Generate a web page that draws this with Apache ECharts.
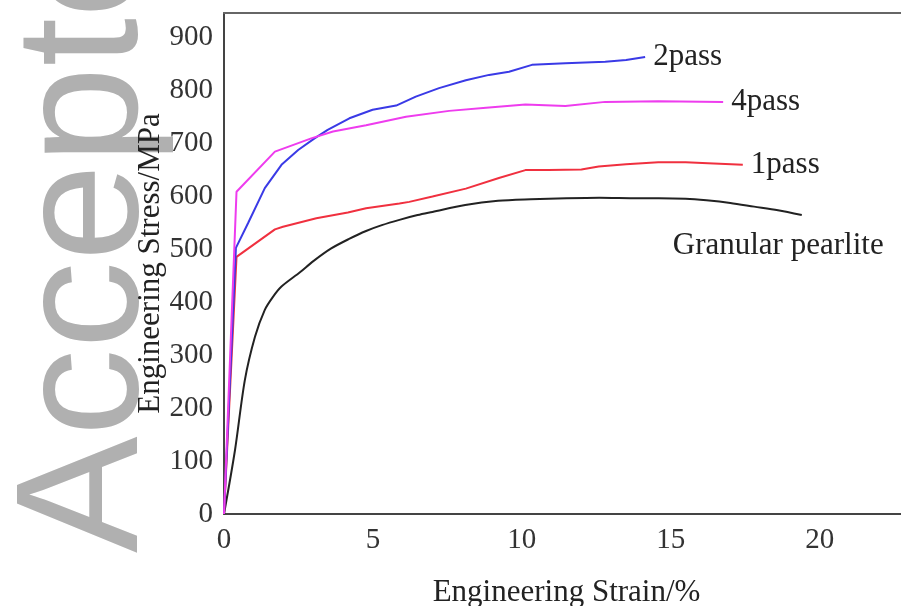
<!DOCTYPE html>
<html>
<head>
<meta charset="utf-8">
<script src="https://cdn.jsdelivr.net/npm/echarts@6/dist/echarts.min.js"></script>
<style>
html,body{margin:0;padding:0;background:#fff;}
#chart{width:901px;height:606px;}
</style>
</head>
<body>
<div id="chart"></div>
<script>
// ---- data ----
var xTicks = [0, 5, 10, 15, 20];
var yTicks = [0, 100, 200, 300, 400, 500, 600, 700, 800, 900];

var seriesNames = ['2pass', '4pass', '1pass', 'Granular pearlite'];

var strain2pass = [0, 0.4, 0.81, 1.37, 1.93, 2.49, 3.04, 3.48, 4.21, 4.99, 5.78, 6.44, 7.22, 8.12, 8.9, 9.57, 10.34, 11.46, 12.8, 13.5, 14.14];
var stress2pass = [0, 503, 550, 616, 660, 688, 710, 726, 748, 764, 772, 789, 805, 820, 830, 836, 849, 852, 855, 858, 864];

var strain4pass = [0, 0.42, 1.71, 2.93, 3.66, 4.77, 6.11, 7.56, 8.8, 10.12, 11.46, 12.8, 14.58, 16.76];
var stress4pass = [0, 609, 685, 710, 723, 735, 751, 762, 768, 774, 771, 779, 780, 779];

var strain1pass = [0, 0.42, 1.71, 1.98, 3.1, 4.16, 4.77, 5.89, 6.22, 7.0, 8.12, 9.23, 10.12, 10.9, 12.0, 12.58, 13.5, 14.58, 15.5, 16.25, 17.42];
var stress1pass = [0, 486, 538, 543, 559, 570, 578, 587, 590, 600, 615, 635, 650, 650, 651, 657, 661, 665, 665, 663, 660];

var strainGP = [0, 0.37, 0.7, 1.04, 1.37, 1.65, 1.93, 2.55, 3.0, 3.6, 4.2, 4.77, 5.3, 5.89, 6.5, 7.0, 8.1, 9.2, 10.3, 11.5, 12.6, 13.9, 14.6, 15.5, 16.2, 17.0, 17.8, 18.6, 19.4];
var stressGP = [0, 121, 253, 335, 386, 411, 430, 457, 478, 502, 520, 535, 546, 556, 565, 571, 584, 592, 595, 597, 598, 597, 597, 596, 593, 588, 581, 574, 565];

function zip(xs, ys) { return xs.map(function (x, i) { return [x, ys[i]]; }); }

var serif = '"Liberation Serif", "Times New Roman", serif';
var chart = echarts.init(document.getElementById('chart'), null, { renderer: 'canvas' });

function lineSeries(name, xs, ys, color, smooth, labelOffset) {
  return {
    name: name,
    type: 'line',
    xAxisIndex: 0,
    data: zip(xs, ys),
    showSymbol: false,
    symbol: 'none',
    smooth: smooth,
    lineStyle: { color: color, width: 2 },
    itemStyle: { color: color },
    z: 3,
    endLabel: {
      show: true,
      formatter: '{a}',
      color: '#222',
      fontFamily: serif,
      fontSize: 31,
      distance: 8,
      offset: labelOffset
    },
    animation: false
  };
}

var option = {
  backgroundColor: '#fff',
  animation: false,
  graphic: {
    elements: [{
      type: 'text',
      x: 89,
      y: 553,
      rotation: Math.PI / 2,
      z: -1,
      silent: true,
      style: {
        text: 'Accepted',
        fill: '#b0b0b0',
        font: '175px "Liberation Sans", Arial, sans-serif',
        textAlign: 'left',
        textVerticalAlign: 'middle'
      }
    }]
  },
  grid: {
    left: 224, top: 13, right: -8, bottom: 92,
    outerBoundsMode: 'none',
    containLabel: false,
    show: false
  },
  xAxis: [{
    type: 'value', min: 0, max: 23, interval: 5,
    name: 'Engineering Strain/%',
    nameLocation: 'middle', nameGap: 63, nameMoveOverlap: false,
    nameTextStyle: { fontFamily: serif, fontSize: 31, color: '#222' },
    axisLine: { show: true, onZero: false, lineStyle: { color: '#444', width: 2 } },
    axisTick: { show: false },
    splitLine: { show: false },
    axisLabel: {
      fontFamily: serif, fontSize: 29, color: '#333', margin: 12,
      formatter: function (v) { return xTicks.indexOf(v) >= 0 ? String(v) : ''; }
    }
  }, {
    type: 'value', min: 0, max: 23, position: 'top',
    axisLine: { show: true, onZero: false, lineStyle: { color: '#666', width: 2 } },
    axisTick: { show: false },
    axisLabel: { show: false },
    splitLine: { show: false }
  }],
  yAxis: {
    type: 'value', min: 0, max: 947, interval: 100,
    name: 'Engineering Stress/MPa',
    nameLocation: 'middle', nameGap: 58, nameMoveOverlap: false,
    nameTextStyle: { fontFamily: serif, fontSize: 31, color: '#222' },
    axisLine: { show: true, onZero: false, lineStyle: { color: '#444', width: 2 } },
    axisTick: { show: false },
    splitLine: { show: false },
    axisLabel: {
      fontFamily: serif, fontSize: 29, color: '#333', margin: 11,
      formatter: function (v) { return yTicks.indexOf(v) >= 0 ? String(v) : ''; }
    }
  },
  series: [
    lineSeries(seriesNames[3], strainGP, stressGP, '#222222', 0.3, [-137, 31]),
    lineSeries(seriesNames[2], strain1pass, stress1pass, '#f0303f', false, [0, 0]),
    lineSeries(seriesNames[0], strain2pass, stress2pass, '#3a3ae6', false, [0, 0]),
    lineSeries(seriesNames[1], strain4pass, stress4pass, '#ee3cee', false, [0, 0])
  ]
};
chart.setOption(option);
</script>
</body>
</html>
